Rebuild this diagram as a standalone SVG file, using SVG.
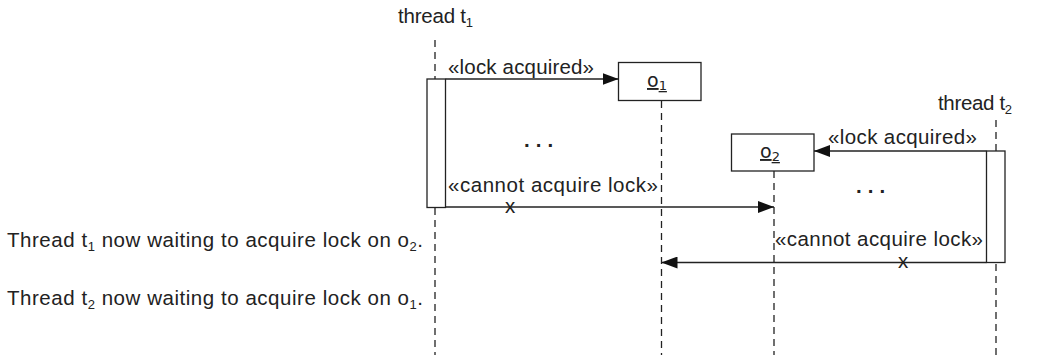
<svg xmlns="http://www.w3.org/2000/svg" width="1045" height="355" viewBox="0 0 1045 355">
<style>
.t{font-family:"Liberation Sans",Arial,sans-serif;font-size:20.5px;fill:#222}
.s{font-size:13px}
.o{font-family:"DejaVu Sans",sans-serif;font-size:19px;fill:#222}
.life{stroke:#222;stroke-width:1.3;stroke-dasharray:7 5;fill:none}
.box{fill:#fff;stroke:#222;stroke-width:1.3}
.msg{stroke:#222;stroke-width:1.3;fill:none}
</style>
<defs>
<marker id="ah" viewBox="0 0 16 12" refX="16" refY="6" markerWidth="16" markerHeight="12" markerUnits="userSpaceOnUse" orient="auto">
<path d="M0,0 L16,6 L0,12 Z" fill="#111"/>
</marker>
</defs>
<g id="lifelines">
<line class="life" x1="435" y1="40" x2="435" y2="355"/>
<line class="life" x1="661.5" y1="101" x2="661.5" y2="355"/>
<line class="life" x1="774" y1="171" x2="774" y2="355"/>
<line class="life" x1="996" y1="120" x2="996" y2="355"/>
</g>
<g id="thread-t1">
<text class="t" x="398" y="23" textLength="75">thread t<tspan class="s" dy="4">1</tspan></text>
<rect class="box" x="427" y="79" width="18.5" height="128.5"/>
</g>
<g id="thread-t2">
<text class="t" x="938" y="110" textLength="74">thread t<tspan class="s" dy="4">2</tspan></text>
<rect class="box" x="986.5" y="151" width="18.5" height="111.5"/>
</g>
<g id="o1">
<rect class="box" x="618.5" y="62.5" width="82.5" height="38"/>
<text class="o" x="647" y="87" text-decoration="underline">o<tspan font-size="13" dy="3" text-decoration="none">1</tspan></text>
</g>
<g id="o2">
<rect class="box" x="731.5" y="134" width="82.5" height="37"/>
<text class="o" x="760" y="158" text-decoration="underline">o<tspan font-size="13" dy="3" text-decoration="none">2</tspan></text>
</g>
<g id="connectors">
<line class="msg" x1="445.5" y1="79" x2="618.5" y2="79" marker-end="url(#ah)"/>
<line class="msg" x1="986.5" y1="151" x2="814" y2="151" marker-end="url(#ah)"/>
<line class="msg" x1="445.5" y1="207" x2="774" y2="207" marker-end="url(#ah)"/>
<line class="msg" x1="986.5" y1="262.5" x2="661.5" y2="262.5" marker-end="url(#ah)"/>
</g>
<g id="labels">
<text class="t" x="448" y="74" textLength="146">«lock acquired»</text>
<text class="t" x="828" y="144" textLength="149">«lock acquired»</text>
<text class="t" x="448" y="192" textLength="210">«cannot acquire lock»</text>
<text class="t" x="775" y="246" textLength="208">«cannot acquire lock»</text>
<text class="t" x="510" y="213" text-anchor="middle" font-size="12">x</text>
<text class="t" x="903" y="268" text-anchor="middle" font-size="12">x</text>
<text class="t" x="524" y="147" font-size="22" font-weight="bold" letter-spacing="6">...</text>
<text class="t" x="856" y="193" font-size="22" font-weight="bold" letter-spacing="6">...</text>
<text class="t" x="7" y="247" textLength="416">Thread t<tspan class="s" dy="4">1</tspan><tspan dy="-4"> now waiting to acquire lock on o</tspan><tspan class="s" dy="4">2</tspan><tspan dy="-4">.</tspan></text>
<text class="t" x="7" y="305" textLength="416">Thread t<tspan class="s" dy="4">2</tspan><tspan dy="-4"> now waiting to acquire lock on o</tspan><tspan class="s" dy="4">1</tspan><tspan dy="-4">.</tspan></text>
</g>
</svg>
